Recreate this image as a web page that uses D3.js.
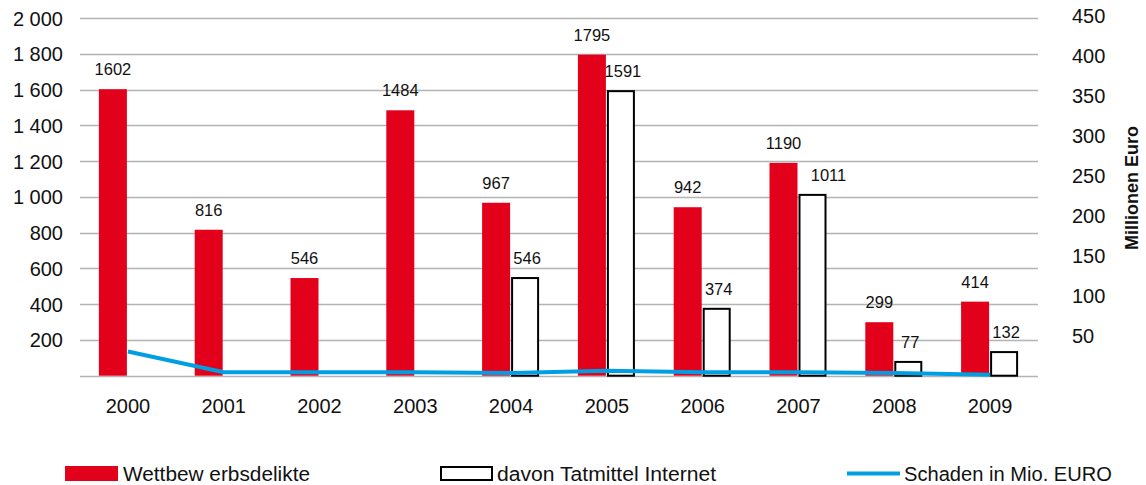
<!DOCTYPE html>
<meta charset="utf-8">
<style>
body { margin: 0; background: #fff; }
text { font-family: "Liberation Sans", Arial, sans-serif; fill: #111; }
.axis text { font-size: 20px; }
.val { font-size: 16.5px; }
</style>
<svg width="1146" height="485"></svg>
<script src="https://d3js.org/d3.v7.min.js"></script>
<script>

var years = ["2000","2001","2002","2003","2004","2005","2006","2007","2008","2009"]
var delikte = [1602, 816, 546, 1484, 967, 1795, 942, 1190, 299, 414]
var internet = [null, null, null, null, 546, 1591, 374, 1011, 77, 132]
var schaden = [30, 4, 4, 4, 3, 6, 4, 4, 3, 1]
var leftTicks = [0, 200, 400, 600, 800, 1000, 1200, 1400, 1600, 1800, 2000]
var rightTicks = [50, 100, 150, 200, 250, 300, 350, 400, 450]
var legendNames = ["Wettbew erbsdelikte", "davon Tatmittel Internet", "Schaden in Mio. EURO"]

var red = "#e2001a", blue = "#009fe3"
var svg = d3.select("svg")

var x = d3.scaleBand().domain(years).range([80, 1038])
var y = d3.scaleLinear().domain([0, 2000]).range([375.7, 18])
var y2 = d3.scaleLinear().domain([0, 450]).range([375.5, 15.5])
var bw = 28

var loc = d3.formatLocale({decimal: ",", thousands: " ", grouping: [3], currency: ["", "€"]})
var fmt = loc.format(",")

// grid
svg.append("g").selectAll("line").data(leftTicks).enter().append("line")
  .attr("x1", 80).attr("x2", 1038)
  .attr("y1", function(d){ return Math.round(y(d)) + 0.5 })
  .attr("y2", function(d){ return Math.round(y(d)) + 0.5 })
  .attr("stroke", "#b3b3b3").attr("stroke-width", 1.3)

// left axis
var ax = svg.append("g").attr("class", "axis").attr("transform", "translate(63,0)")
  .call(d3.axisLeft(y).tickValues(leftTicks.slice(1)).tickSize(0).tickPadding(0).tickFormat(fmt))
ax.select(".domain").remove()
ax.selectAll("text").attr("fill", "#111").attr("dy", "0.35em")

// right axis
var ax2 = svg.append("g").attr("class", "axis").attr("transform", "translate(1072,0)")
  .call(d3.axisRight(y2).tickValues(rightTicks).tickSize(0).tickPadding(0))
ax2.select(".domain").remove()
ax2.selectAll("text").attr("fill", "#111").attr("dy", "0.35em")

svg.append("text").attr("transform", "translate(1138,188) rotate(-90)")
  .attr("text-anchor", "middle").style("font-size", "18px").style("font-weight", "bold")
  .text("Millionen Euro")

// x axis labels
var ax3 = svg.append("g").attr("class", "axis").attr("transform", "translate(0,398)")
  .call(d3.axisBottom(x).tickSize(0).tickPadding(0))
ax3.select(".domain").remove()
ax3.selectAll("text").attr("fill", "#111").attr("dy", "0.75em")

function cx(i){ return x(years[i]) + x.bandwidth() / 2 }

// bars
svg.append("g").selectAll("rect").data(delikte).enter().append("rect")
  .attr("x", function(d, i){ return cx(i) - bw - 1 })
  .attr("y", function(d){ return y(d) })
  .attr("width", bw)
  .attr("height", function(d){ return y(0) - y(d) })
  .attr("fill", red)

var inet = internet.map(function(d, i){ return {v: d, i: i} }).filter(function(d){ return d.v != null })
svg.append("g").selectAll("rect").data(inet).enter().append("rect")
  .attr("x", function(d){ return cx(d.i) + 1 })
  .attr("y", function(d){ return y(d.v) })
  .attr("width", bw - 2)
  .attr("height", function(d){ return y(0) - y(d.v) })
  .attr("fill", "#fff").attr("stroke", "#000").attr("stroke-width", 2)

// line
var line = d3.line().x(function(d, i){ return cx(i) }).y(function(d){ return y2(d) })
svg.append("path").datum(schaden).attr("d", line)
  .attr("fill", "none").attr("stroke", blue).attr("stroke-width", 4)

// value labels
svg.append("g").selectAll("text").data(delikte).enter().append("text")
  .attr("class", "val").attr("text-anchor", "middle")
  .attr("x", function(d, i){ return cx(i) - bw / 2 - 1 })
  .attr("y", function(d){ return y(d) - 14 })
  .text(function(d){ return d })

svg.append("g").selectAll("text").data(inet).enter().append("text")
  .attr("class", "val").attr("text-anchor", "middle")
  .attr("x", function(d){ return cx(d.i) + bw / 2 + (d.v == 1011 ? 16 : 2) })
  .attr("y", function(d){ return y(d.v) - 14 })
  .text(function(d){ return d.v })

// legend
var lg = svg.append("g")
lg.append("rect").attr("x", 65).attr("y", 466).attr("width", 53).attr("height", 15).attr("fill", red)
lg.append("rect").attr("x", 441).attr("y", 467).attr("width", 51).attr("height", 13)
  .attr("fill", "#fff").attr("stroke", "#000").attr("stroke-width", 2)
lg.append("line").attr("x1", 847).attr("x2", 900).attr("y1", 473.5).attr("y2", 473.5)
  .attr("stroke", blue).attr("stroke-width", 4)
var lx = [123, 497, 904], lw = [187, 219, 208]
lg.selectAll("text").data(legendNames).enter().append("text")
  .attr("x", function(d, i){ return lx[i] })
  .attr("y", 481)
  .attr("textLength", function(d, i){ return lw[i] })
  .attr("lengthAdjust", "spacingAndGlyphs")
  .style("font-size", "20px")
  .text(function(d){ return d })

</script>
